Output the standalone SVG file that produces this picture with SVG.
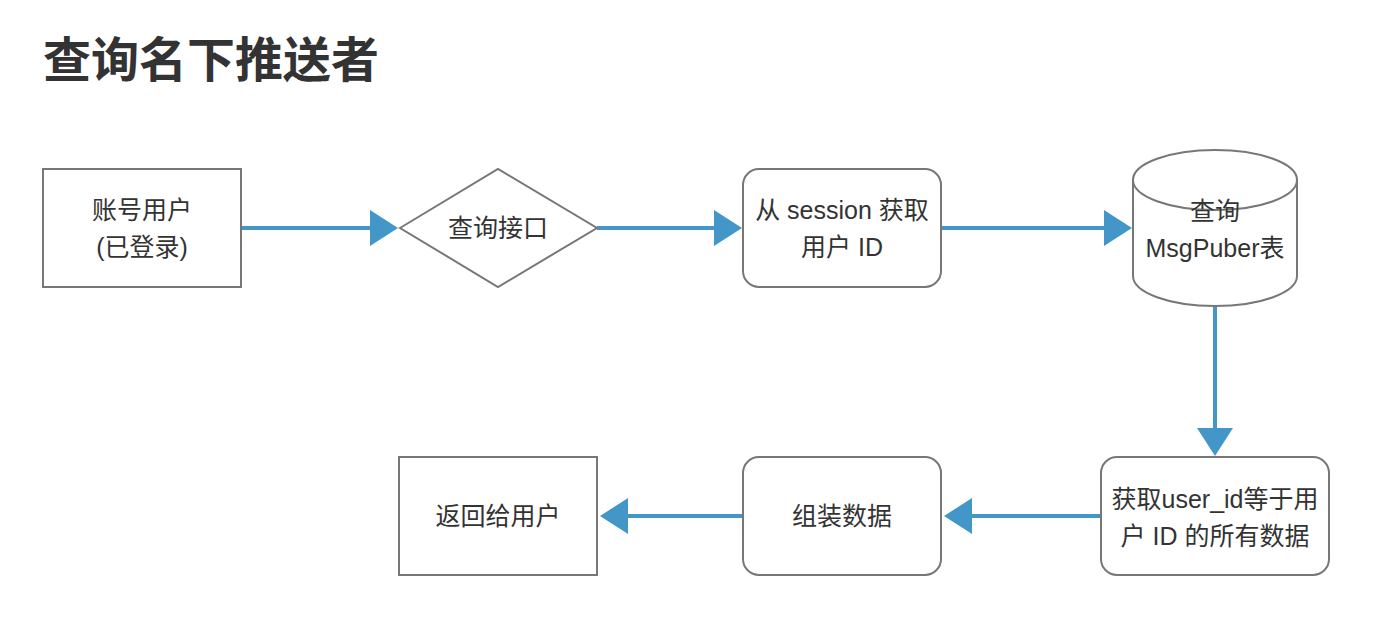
<svg xmlns="http://www.w3.org/2000/svg" width="1382" height="632" viewBox="0 0 1382 632">
<defs>
<style>
.shape{fill:#ffffff;stroke:#777777;stroke-width:2}
.lbl{font-family:"Liberation Sans","Noto Sans CJK SC",sans-serif;font-size:25px;fill:#333333;text-anchor:middle}
.title{font-family:"Noto Sans CJK SC","Liberation Sans",sans-serif;font-size:48px;font-weight:bold;fill:#333333}
.conn{fill:none;stroke:#4397c8;stroke-width:4;marker-end:url(#arrow)}
</style>
<marker id="arrow" viewBox="0 -18 28 36" markerWidth="28" markerHeight="36" refX="1" refY="0" markerUnits="userSpaceOnUse" orient="auto">
<path d="M0,-18 L28,0 L0,18 Z" fill="#4397c8"/>
</marker>
</defs>
<rect width="1382" height="632" fill="#ffffff"/>
<text class="title" x="43" y="77">查询名下推送者</text>
<g id="connectors">
<line class="conn" x1="241" y1="228" x2="371" y2="228"/>
<line class="conn" x1="597" y1="228" x2="715" y2="228"/>
<line class="conn" x1="941" y1="228" x2="1105" y2="228"/>
<line class="conn" x1="1215" y1="306" x2="1215" y2="429"/>
<line class="conn" x1="1101" y1="516" x2="971" y2="516"/>
<line class="conn" x1="743" y1="516" x2="627" y2="516"/>
</g>
<g id="node-user">
<rect class="shape" x="43" y="169" width="198" height="118"/>
<text class="lbl" x="142" y="219">账号用户</text>
<text class="lbl" x="142" y="256">(已登录)</text>
</g>
<g id="node-api">
<polygon class="shape" points="400,228 498,169 597,228 498,287"/>
<text class="lbl" x="498" y="237">查询接口</text>
</g>
<g id="node-session">
<rect class="shape" x="743" y="169" width="198" height="118" rx="16" ry="16"/>
<text class="lbl" x="842" y="219">从 session 获取</text>
<text class="lbl" x="842" y="256">用户 ID</text>
</g>
<g id="node-db">
<path class="shape" d="M1133,180 A82,30 0 0,1 1297,180 L1297,276 A82,30 0 0,1 1133,276 Z"/>
<path class="shape" fill="none" d="M1133,180 A82,30 0 0,0 1297,180"/>
<text class="lbl" x="1215" y="220">查询</text>
<text class="lbl" x="1215" y="257">MsgPuber表</text>
</g>
<g id="node-fetch">
<rect class="shape" x="1101" y="457" width="228" height="118" rx="16" ry="16"/>
<text class="lbl" x="1215" y="508">获取user_id等于用</text>
<text class="lbl" x="1215" y="545">户 ID 的所有数据</text>
</g>
<g id="node-assemble">
<rect class="shape" x="743" y="457" width="198" height="118" rx="16" ry="16"/>
<text class="lbl" x="842" y="525">组装数据</text>
</g>
<g id="node-return">
<rect class="shape" x="399" y="457" width="198" height="118"/>
<text class="lbl" x="498" y="525">返回给用户</text>
</g>
</svg>
